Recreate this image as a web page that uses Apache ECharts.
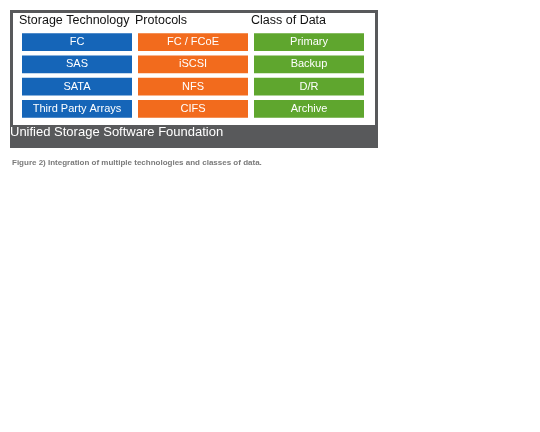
<!DOCTYPE html>
<html>
<head>
<meta charset="utf-8">
<script src="https://cdn.jsdelivr.net/npm/echarts@6/dist/echarts.min.js"></script>
<style>html,body{margin:0;padding:0;background:#fff}#main{width:540px;height:432px}</style>
</head>
<body>
<div id="main"></div>
<script>
var columns = ['Storage Technology', 'Protocols', 'Class of Data'];
var rows = ['r1', 'r2', 'r3', 'r4'];
var storageTech = ['FC', 'SAS', 'SATA', 'Third Party Arrays'];
var protocols = ['FC / FCoE', 'iSCSI', 'NFS', 'CIFS'];
var dataClasses = ['Primary', 'Backup', 'D/R', 'Archive'];
var colColors = ['#1565b8', '#f26b1d', '#5fa62e'];
var foundation = 'Unified Storage Software Foundation';
var caption = 'Figure 2) Integration of multiple technologies and classes of data.';

var myChart = echarts.init(document.getElementById('main'));
var cells = [];
[storageTech, protocols, dataClasses].forEach(function (list, c) {
    list.forEach(function (label, r) {
        cells.push({ value: [c, r], name: label, itemStyle: { color: colColors[c] } });
    });
});

var option = {
    animation: false,
    grid: { left: 19, top: 31, width: 348, height: 89 },
    xAxis: { type: 'category', data: columns, show: false },
    yAxis: { type: 'category', data: rows, inverse: true, show: false },
    graphic: [
        { type: 'rect', z: -1, shape: { x: 10, y: 10, width: 368, height: 138 }, style: { fill: '#58595b' } },
        { type: 'rect', z: -1, shape: { x: 13, y: 13, width: 362, height: 112 }, style: { fill: '#fff' } },
        { type: 'text', left: 10, top: 126, style: { text: foundation, width: 368, align: 'center', fill: '#fff', font: '13px Arial, "Liberation Sans"' }, z: 5 },
        { type: 'text', left: 12, top: 159, style: { text: caption, fill: '#7a7a7a', font: 'bold 8px Arial, "Liberation Sans"' } }
    ].concat(columns.map(function (t, i) {
        return { type: 'text', left: 19 + i * 116, top: 14, style: { text: t, width: 116, align: 'center', fill: '#111', font: '12.5px Arial, "Liberation Sans"' } };
    })),
    series: [{
        type: 'custom',
        data: cells,
        renderItem: function (params, api) {
            var p = api.coord([api.value(0), api.value(1)]);
            var s = api.size([1, 1]);
            var w = s[0] - 6, h = s[1] - 4.5;
            return {
                type: 'rect',
                shape: { x: p[0] - w / 2, y: p[1] - h / 2, width: w, height: h },
                style: { fill: api.visual('color') },
                textContent: { style: { text: cells[params.dataIndex].name, fill: '#fff', font: '11px Arial, "Liberation Sans"' } },
                textConfig: { position: 'inside' }
            };
        }
    }]
};
myChart.setOption(option);
</script>
</body>
</html>
